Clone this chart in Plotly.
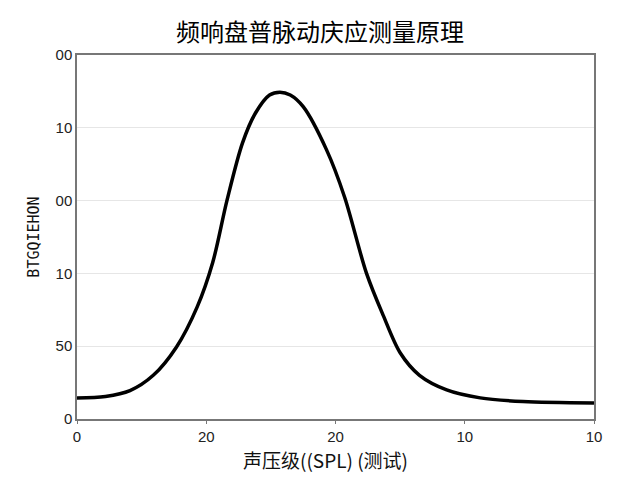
import plotly.graph_objects as go

# curve (x in tick units, y in tick units)
x_vals = [0.0, 0.22, 0.41, 0.59, 0.77, 0.93, 1.05, 1.16, 1.28, 1.38, 1.49, 1.57,
          1.65, 1.75, 1.93, 2.07, 2.24, 2.37, 2.5, 2.65, 2.86, 3.12, 3.45, 4.0]
y_vals = [0.29, 0.31, 0.39, 0.6, 0.99, 1.54, 2.15, 3.0, 3.79, 4.2, 4.45, 4.49,
          4.45, 4.29, 3.7, 3.05, 2.0, 1.42, 0.91, 0.6, 0.4, 0.29, 0.24, 0.22]

x_ticks = [0, 1, 2, 3, 4]
x_labels = ["0", "20", "20", "10", "10"]
y_ticks = [0, 1, 2, 3, 4, 5]
y_labels = ["0", "50", "10", "00", "10", "00"]

title_text = "频响盘普脉动庆应测量原理"
x_title = "声压级((SPL) (测试)"
y_title = "BTGQIEHON"

fig = go.Figure()
fig.add_trace(go.Scatter(
    x=x_vals, y=y_vals, mode="lines",
    line=dict(color="black", width=3.5, shape="spline", smoothing=0.9),
    showlegend=False, hoverinfo="skip"))

# page body has an 8px margin, so the figure is sized to fit inside it
fig.update_layout(
    width=624, height=464,
    paper_bgcolor="white", plot_bgcolor="white",
    margin=dict(l=69, r=38, t=47, b=53, autoexpand=False),
    title=dict(text=title_text, x=0.5, xanchor="center", y=0.947, yanchor="middle",
               font=dict(family="Noto Sans CJK SC", size=24, color="#000")),
    font=dict(family="Liberation Sans, Arial", color="#222"),
)
# x title sits slightly left of centre in the reference, so use an annotation
fig.add_annotation(text=x_title, xref="paper", yref="paper", x=0.48, y=-0.112,
                   xanchor="center", yanchor="middle", showarrow=False,
                   font=dict(family="Noto Sans CJK SC", size=19, color="#111"))
fig.update_xaxes(
    range=[0, 4], tickvals=x_ticks, ticktext=x_labels, automargin=False,
    showgrid=False, zeroline=False,
    showline=True, linecolor="#777", linewidth=1.5, mirror=True,
    ticks="outside", ticklen=3, tickcolor="#777",
    tickfont=dict(size=15, color="#222"))
fig.update_yaxes(
    range=[0, 5], tickvals=y_ticks, ticktext=y_labels, automargin=False,
    showgrid=True, gridcolor="#e6e6e6", gridwidth=1, zeroline=False,
    showline=True, linecolor="#777", linewidth=1.5, mirror=True,
    ticks="", tickfont=dict(size=15, color="#222"),
    title=dict(text=y_title, standoff=12,
               font=dict(family="DejaVu Sans Mono", size=15, color="#111")))

fig.write_html("out.html")
